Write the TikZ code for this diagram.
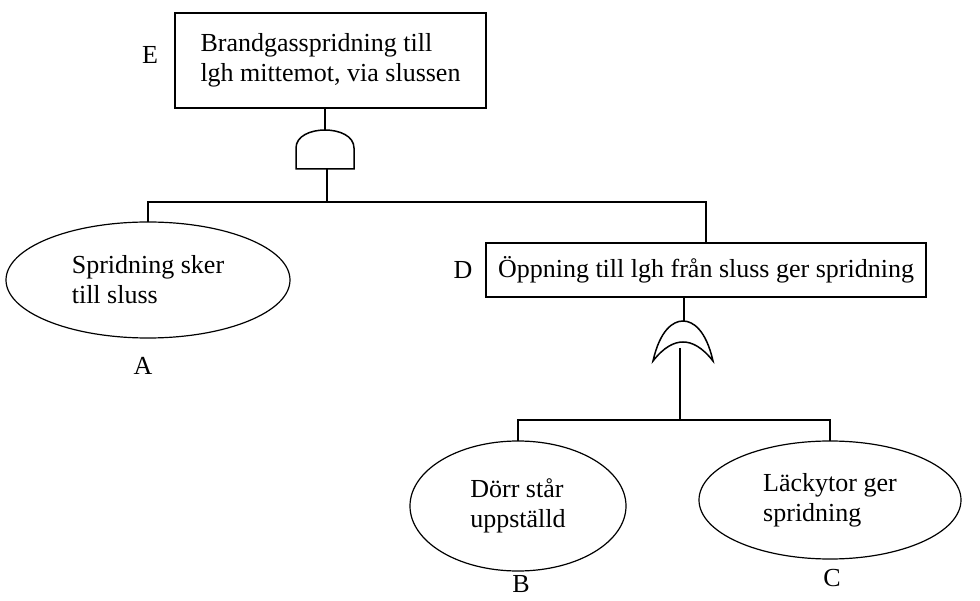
\documentclass[tikz,border=0pt]{standalone}
\usepackage{fontspec}
\setmainfont{Liberation Serif}
\usetikzlibrary{shapes.geometric}

\begin{document}
\begin{tikzpicture}[x=1pt,y=-1pt,line width=1.5pt]
\tikzset{every node/.style={font=\fontsize{26}{30}\selectfont},
	event box/.style={draw, rectangle, align=left, inner sep=0pt, outer sep=0pt},
	basic event/.style={draw, ellipse, align=left, inner sep=0pt, outer sep=0pt, line width=1.2pt},
	event name/.style={inner sep=0pt}
}
\useasboundingbox (0,0) rectangle (980,601);

% top event with AND gate
\node[event box, minimum width=311, minimum height=95] (evE) at (330.5,60.5) {Brandgasspridning till\\lgh mittemot, via slussen};
\node[event name] (nameE) at (150,55) {E};

\draw (296,169) -- (296,148) .. controls (296,124) and (354,124) .. (354,148) -- (354,169) -- cycle;
\coordinate (andin) at (325,130);
\coordinate (andout) at (327,169);
\coordinate (busAD) at (327,202);
\draw (andin |- evE.south) -- (andin);
\draw (andout) -- (busAD);

% left input
\node[basic event, minimum width=284, minimum height=116] (evA) at (148,280) {Spridning sker\\till sluss};
\node[event name] (nameA) at (143,366) {A};

% right input with OR gate
\node[event box, minimum width=440, minimum height=54] (evD) at (706,270) {Öppning till lgh från sluss ger spridning};
\node[event name] (nameD) at (463,270) {D};

\draw (busAD) -| (evD.north);
\draw (evA.north) |- (busAD);

\draw (653,361) .. controls (660,330) and (673,321) .. (683,321)
	.. controls (693,321) and (706,330) .. (713,361)
	.. controls (702,347) and (692,342) .. (683,342)
	.. controls (674,342) and (664,347) .. (653,361) -- cycle;
\coordinate (orin) at (684,321);
\coordinate (orout) at (680,348);
\coordinate (busBC) at (680,420);
\draw (orin |- evD.south) -- (orin);
\draw (orout) -- (busBC);

% basic events under the OR gate
\node[basic event, minimum width=216, minimum height=130] (evB) at (518,506) {Dörr står\\uppställd};
\node[basic event, minimum width=262, minimum height=118] (evC) at (830,500) {Läckytor ger\\spridning};
\node[event name] (nameB) at (521,584) {B};
\node[event name] (nameC) at (832,578) {C};

\draw (evB.north) |- (busBC) -| (evC.north);

\end{tikzpicture}
\end{document}
